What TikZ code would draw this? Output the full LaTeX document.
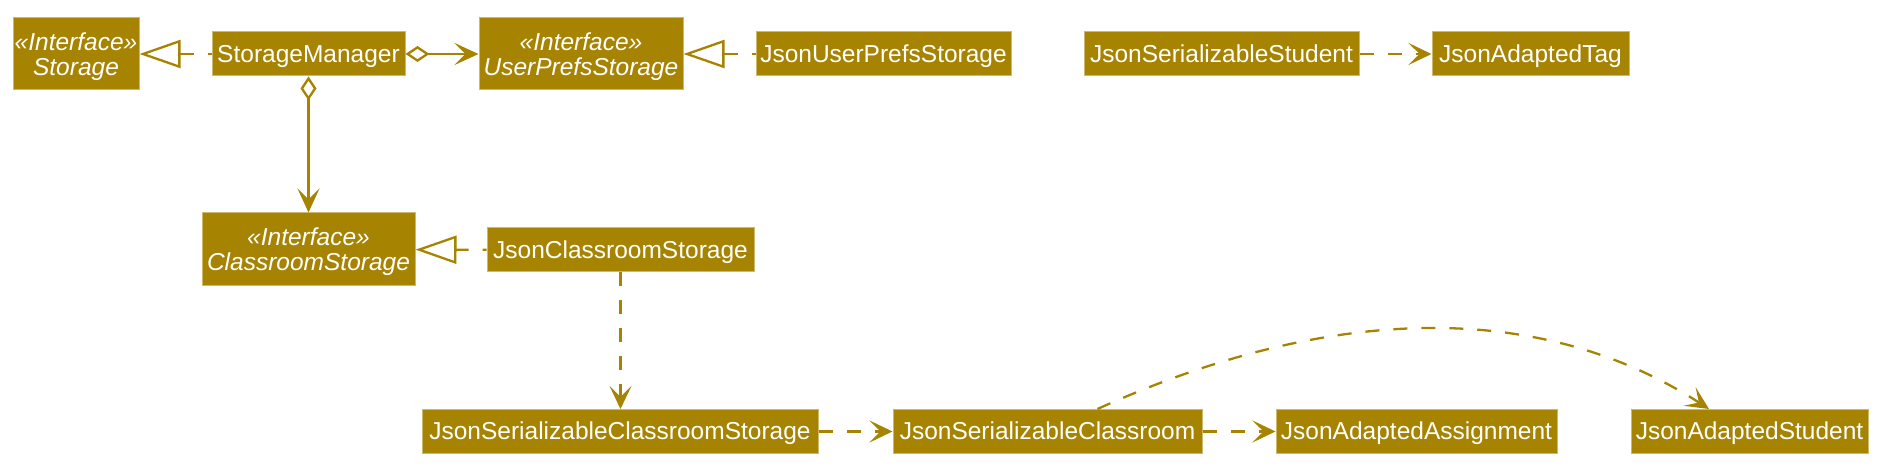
\documentclass[tikz,border=0pt]{standalone}
\usepackage{fontspec}
\setmainfont{Liberation Sans}
\usetikzlibrary{arrows.meta}
\definecolor{boxfill}{RGB}{166,131,0}
\definecolor{boxedge}{RGB}{205,185,110}
\definecolor{linec}{RGB}{166,131,0}
\newcommand{\topstrut}{\rule{0pt}{11.3pt}}
\tikzset{
  cls/.style={draw=boxedge, fill=boxfill, text=white, inner sep=0pt, line width=0.5pt,
    minimum height=22pt, text height=9pt, text depth=0.5pt, font=\fontsize{12.25}{13}\selectfont},
  iface/.style={draw=boxedge, fill=boxfill, text=white, inner sep=0pt, line width=0.5pt,
    minimum height=36pt, align=center, font=\fontsize{12.25}{12.7}\selectfont\itshape},
  conn/.style={draw=linec, line width=1.15pt},
  dep/.style={conn, dash pattern=on 7pt off 7pt, -{Stealth[length=11.5pt,width=11pt,inset=5.5pt]}},
  realize/.style={conn, dash pattern=on 7pt off 7pt, dash phase=5pt,
    -{Triangle[open, length=20.5pt, width=14pt, fill=white]}},
  agg/.style={conn, {Diamond[open, length=12pt, width=8pt, fill=white]}-{Stealth[length=12pt,width=11pt,inset=5.5pt]}},
}
\begin{document}
\begin{tikzpicture}[x=0.5pt,y=-0.5pt]
\useasboundingbox (0,0) rectangle (1886,475);
% nodes
\node[iface, minimum width=63pt] (st) at (76,54) {\topstrut«Interface»\\Storage};
\node[cls, minimum width=96.5pt] (sm) at (308.5,54) {StorageManager};
\node[iface, minimum width=102pt] (ups) at (581,54) {\topstrut«Interface»\\UserPrefsStorage};
\node[cls, minimum width=127.5pt] (jups) at (883.5,54) {JsonUserPrefsStorage};
\node[cls, minimum width=137.5pt] (jss) at (1221.5,54) {JsonSerializableStudent};
\node[cls, minimum width=98.5pt] (jat) at (1530.5,54) {JsonAdaptedTag};
\node[iface, minimum width=106.5pt, minimum height=36.5pt] (cs) at (308.5,249.5) {\topstrut«Interface»\\ClassroomStorage};
\node[cls, minimum width=133.5pt] (jcs) at (620.5,250) {JsonClassroomStorage};
\node[cls, minimum width=198pt] (jscs) at (620,431.5) {JsonSerializableClassroomStorage};
\node[cls, minimum width=154.5pt] (jsc) at (1047.5,431.5) {JsonSerializableClassroom};
\node[cls, minimum width=140.5pt] (jaa) at (1416.5,431.5) {JsonAdaptedAssignment};
\node[cls, minimum width=118.5pt] (jas) at (1749.5,431.5) {JsonAdaptedStudent};
% connectors
\draw[realize] (sm) -- (st);
\draw[realize] (jups) -- (ups);
\draw[realize] (jcs) -- (cs);
\draw[agg] (sm) -- (ups);
\draw[agg] (sm) -- (cs);
\draw[dep] (jss) -- (jat);
\draw[dep] (jcs.south) -- (jcs.south |- jscs.north);
\draw[dep] (jscs) -- (jsc);
\draw[dep] (jsc) -- (jaa);
\coordinate (c1) at (1330,304);
\coordinate (c2) at (1540,300);
\draw[dep] ([xshift=25pt]jsc.north) .. controls (c1) and (c2) .. ([xshift=-20.25pt]jas.north);
\end{tikzpicture}
\end{document}
